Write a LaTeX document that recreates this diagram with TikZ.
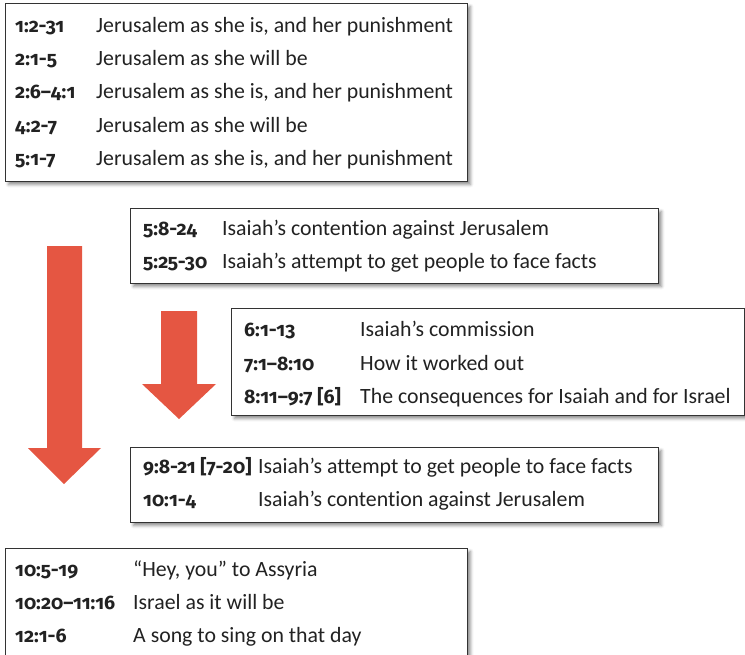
\documentclass[tikz,border=0pt]{standalone}
\usepackage{fontspec}
\setmainfont{Carlito}[Ligatures={NoCommon,NoRare}]
\newfontfamily\lblfont{Fira Sans}[Numbers=OldStyle]
\usetikzlibrary{shadows.blur}
\definecolor{arrowred}{RGB}{229,86,66}
\definecolor{txt}{RGB}{34,34,34}
\begin{document}
\begin{tikzpicture}[x=1pt,y=-1pt,
  box/.style={draw=black!80, line width=1pt, fill=white, inner sep=0pt, anchor=north west,
    blur shadow={shadow xshift=3pt, shadow yshift=-3pt, shadow blur radius=3pt, shadow opacity=45}},
  lbl/.style={anchor=base west, inner sep=0pt, text=txt, font=\lblfont\fontsize{19.5}{22}\selectfont\bfseries},
  dsc/.style={anchor=base west, inner sep=0pt, text=txt, font=\fontsize{21.8}{24}\selectfont},
  arr/.style={fill=arrowred, draw=none}]
\useasboundingbox (0,0) rectangle (745,654);

% arrows
\fill[arr] (47,246) -- (82,246) -- (82,448) -- (101,448) -- (64,484) -- (28,448) -- (47,448) -- cycle;
\fill[arr] (161,311) -- (197,311) -- (197,384) -- (216,384) -- (179,419) -- (142,384) -- (161,384) -- cycle;

% box 1
\node[box, minimum width=462pt, minimum height=178pt] (b1) at (5,3) {};
\node[lbl] (l11) at (15,32) {1:2-31};
\node[dsc] (d11) at (96,32) {Jerusalem as she is, and her punishment};
\node[lbl] (l12) at (15,65.3) {2:1-5};
\node[dsc] (d12) at (96,65.3) {Jerusalem as she will be};
\node[lbl] (l13) at (15,98.6) {2:6–4:1};
\node[dsc] (d13) at (96,98.6) {Jerusalem as she is, and her punishment};
\node[lbl] (l14) at (15,132) {4:2-7};
\node[dsc] (d14) at (96,132) {Jerusalem as she will be};
\node[lbl] (l15) at (15,165.3) {5:1-7};
\node[dsc] (d15) at (96,165.3) {Jerusalem as she is, and her punishment};

% box 2
\node[box, minimum width=528pt, minimum height=75pt] (b2) at (130,208) {};
\node[lbl] (l21) at (143,235) {5:8-24};
\node[dsc] (d21) at (222,235) {Isaiah’s contention against Jerusalem};
\node[lbl] (l22) at (143,268) {5:25-30};
\node[dsc] (d22) at (222,268) {Isaiah’s attempt to get people to face facts};

% box 3
\node[box, minimum width=513pt, minimum height=107pt] (b3) at (231,308) {};
\node[lbl] (l31) at (244,336) {6:1-13};
\node[dsc] (d31) at (360,336) {Isaiah’s commission};
\node[lbl] (l32) at (244,370) {7:1–8:10};
\node[dsc] (d32) at (360,370) {How it worked out};
\node[lbl] (l33) at (244,403) {8:11–9:7 [6]};
\node[dsc] (d33) at (360,403) {The consequences for Isaiah and for Israel};

% box 4
\node[box, minimum width=528pt, minimum height=75pt] (b4) at (130,447) {};
\node[lbl] (l41) at (143,473) {9:8-21 [7-20]};
\node[dsc] (d41) at (258,473) {Isaiah’s attempt to get people to face facts};
\node[lbl] (l42) at (143,506) {10:1-4};
\node[dsc] (d42) at (258,506) {Isaiah’s contention against Jerusalem};

% box 5
\node[box, minimum width=462pt, minimum height=130pt] (b5) at (5,548) {};
\node[lbl] (l51) at (15,576) {10:5-19};
\node[dsc] (d51) at (133,576) {“Hey, you” to Assyria};
\node[lbl] (l52) at (15,609) {10:20–11:16};
\node[dsc] (d52) at (133,609) {Israel as it will be};
\node[lbl] (l53) at (15,642) {12:1-6};
\node[dsc] (d53) at (133,642) {A song to sing on that day};
\end{tikzpicture}
\end{document}
